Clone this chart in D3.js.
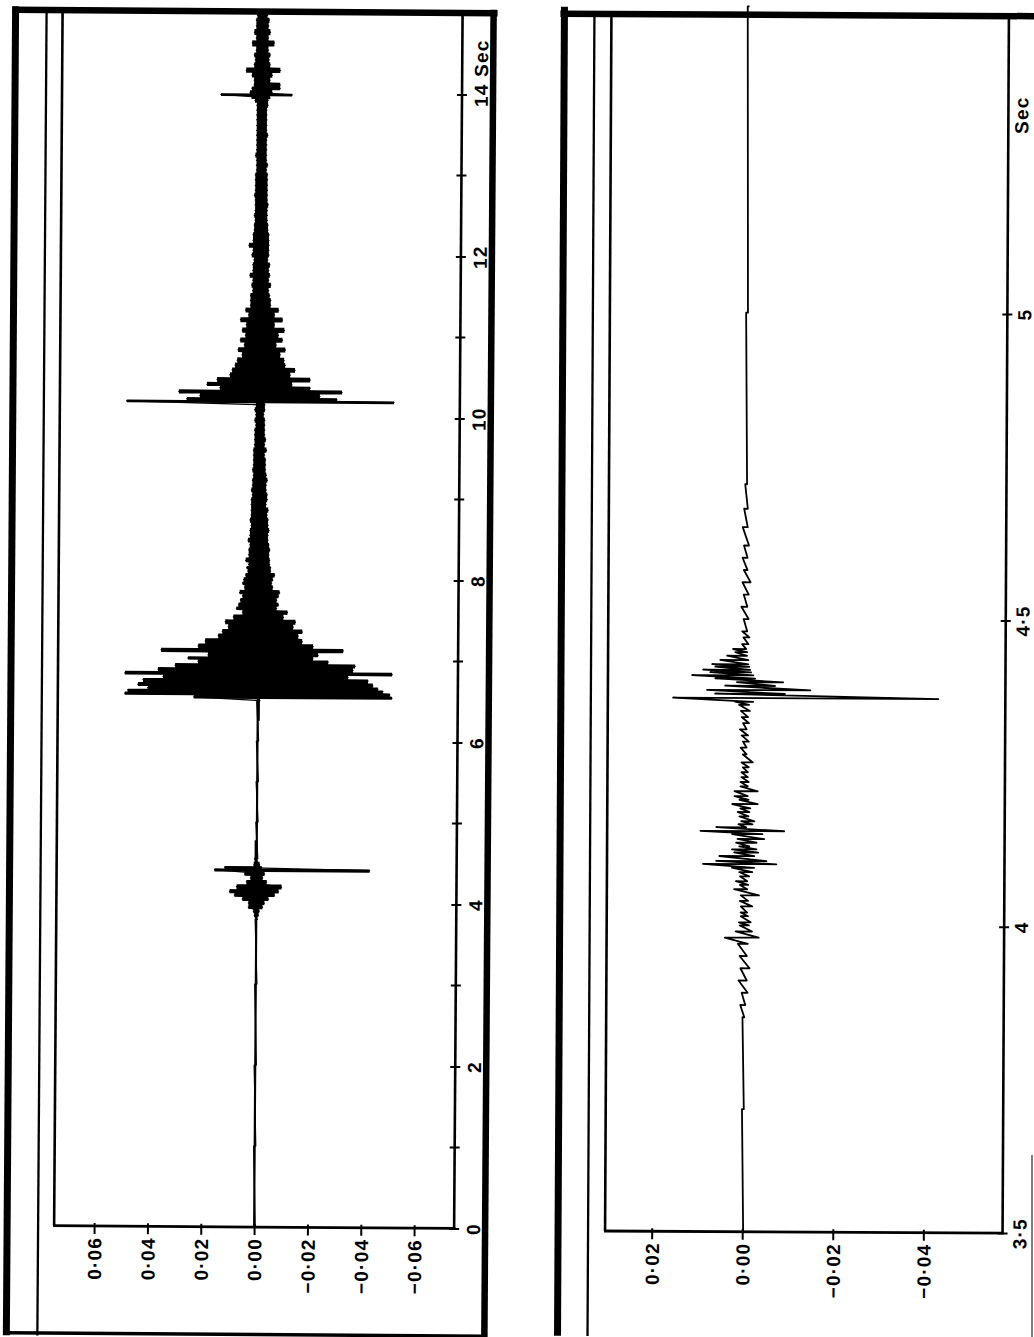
<!DOCTYPE html>
<html><head><meta charset="utf-8">
<script src="https://cdn.jsdelivr.net/npm/d3@7"></script>
<style>
body{margin:0;background:#fff}
svg{display:block}
text{font-family:"Liberation Sans",Arial,Helvetica,sans-serif;font-weight:bold;font-size:19px;fill:#000;letter-spacing:1.2px}
</style>
</head><body>
<svg id="c" width="1034" height="1337"></svg>
<script>
// ---------------- data ----------------
const leftTimeTicks = [0, 2, 4, 6, 8, 10, 12, 14];
const leftTimeLabels = ["0", "2", "4", "6", "8", "10", "12", "14 Sec"];
const leftTimeMinor = [1, 3, 5, 7, 9, 11, 13];
const leftAmpTicks = [0.06, 0.04, 0.02, 0, -0.02, -0.04, -0.06];
const leftAmpLabels = ["0·06", "0·04", "0·02", "0·00", "−0·02", "−0·04", "−0·06"];

const rightTimeTicks = [3.5, 4, 4.5, 5];
const rightTimeLabels = ["3·5", "4", "4·5", "5"];
const rightTimeTitle = "Sec";
const rightAmpTicks = [0.02, 0, -0.02, -0.04];
const rightAmpLabels = ["0·02", "0·00", "−0·02", "−0·04"];

// trace rows: [time (s), max amplitude, min amplitude]
const leftTrace = [
[0.00,0.0004,-0.0004],[1.00,0.0004,-0.0004],[2.00,0.0004,-0.0004],[3.00,0.0004,-0.0004],
[3.80,0.0004,-0.0004],[3.85,0.0008,-0.0008],[3.90,0.0011,-0.0011],[3.95,0.0030,-0.0023],
[4.00,0.0030,-0.0030],[4.05,0.0053,-0.0045],[4.10,0.0083,-0.0068],[4.14,0.0101,-0.0083],
[4.20,0.0075,-0.0094],[4.26,0.0038,-0.0038],[4.31,0.0023,-0.0023],[4.36,0.0045,-0.0030],
[4.41,0.0158,-0.0424],[4.44,0.0120,-0.0019],[4.47,0.0011,-0.0011],[4.55,0.0008,-0.0004],
[5.00,0.0004,-0.0004],[5.50,0.0004,-0.0004],[6.00,0.0004,-0.0004],[6.50,0.0004,-0.0008],
[6.54,0.0240,-0.0503],[6.58,0.0499,-0.0495],[6.62,0.0488,-0.0469],[6.65,0.0413,-0.0450],
[6.69,0.0450,-0.0431],[6.75,0.0431,-0.0413],[6.79,0.0356,-0.0338],[6.83,0.0499,-0.0503],
[6.88,0.0375,-0.0356],[6.93,0.0311,-0.0364],[6.98,0.0225,-0.0263],[7.02,0.0263,-0.0206],
[7.06,0.0188,-0.0225],[7.12,0.0364,-0.0319],[7.17,0.0225,-0.0206],[7.23,0.0199,-0.0165],
[7.30,0.0150,-0.0150],[7.35,0.0135,-0.0165],[7.41,0.0113,-0.0131],[7.47,0.0124,-0.0139],
[7.53,0.0094,-0.0094],[7.59,0.0060,-0.0109],[7.64,0.0083,-0.0068],[7.68,0.0075,-0.0075],
[7.74,0.0068,-0.0068],[7.79,0.0060,-0.0075],[7.83,0.0071,-0.0079],[7.90,0.0053,-0.0053],
[7.95,0.0060,-0.0049],[7.99,0.0056,-0.0053],[8.05,0.0049,-0.0060],[8.10,0.0041,-0.0045],
[8.14,0.0045,-0.0045],[8.18,0.0038,-0.0041],[8.23,0.0049,-0.0041],[8.30,0.0038,-0.0038],
[8.36,0.0038,-0.0041],[8.42,0.0034,-0.0038],[8.48,0.0041,-0.0034],[8.54,0.0034,-0.0034],
[8.60,0.0034,-0.0038],[8.66,0.0030,-0.0034],[8.73,0.0034,-0.0034],[8.79,0.0030,-0.0030],
[8.85,0.0030,-0.0034],[8.92,0.0030,-0.0026],[8.98,0.0030,-0.0030],[9.04,0.0026,-0.0030],
[9.10,0.0030,-0.0026],[9.16,0.0026,-0.0026],[9.22,0.0026,-0.0030],[9.28,0.0023,-0.0026],
[9.35,0.0026,-0.0023],[9.41,0.0023,-0.0023],[9.47,0.0023,-0.0023],[9.53,0.0023,-0.0019],
[9.59,0.0023,-0.0026],[9.66,0.0019,-0.0019],[9.72,0.0019,-0.0023],[9.78,0.0019,-0.0019],
[9.84,0.0019,-0.0019],[9.90,0.0015,-0.0019],[9.96,0.0019,-0.0019],[10.03,0.0015,-0.0015],
[10.09,0.0019,-0.0019],[10.15,0.0015,-0.0019],[10.19,0.0499,-0.0503],[10.22,0.0274,-0.0289],
[10.26,0.0225,-0.0225],[10.31,0.0304,-0.0308],[10.36,0.0150,-0.0188],[10.40,0.0199,-0.0120],
[10.46,0.0161,-0.0188],[10.52,0.0113,-0.0113],[10.58,0.0105,-0.0131],[10.64,0.0094,-0.0094],
[10.70,0.0086,-0.0090],[10.77,0.0068,-0.0075],[10.83,0.0083,-0.0094],[10.89,0.0060,-0.0060],
[10.95,0.0075,-0.0083],[11.01,0.0056,-0.0068],[11.07,0.0068,-0.0090],[11.14,0.0053,-0.0053],
[11.20,0.0075,-0.0083],[11.26,0.0045,-0.0053],[11.32,0.0056,-0.0068],[11.38,0.0038,-0.0038],
[11.44,0.0038,-0.0038],[11.50,0.0038,-0.0034],[11.56,0.0030,-0.0030],[11.63,0.0034,-0.0038],
[11.69,0.0030,-0.0030],[11.75,0.0041,-0.0034],[11.81,0.0030,-0.0030],[11.88,0.0030,-0.0034],
[11.94,0.0026,-0.0026],[12.00,0.0034,-0.0030],[12.06,0.0030,-0.0030],[12.12,0.0045,-0.0030],
[12.18,0.0030,-0.0030],[12.25,0.0030,-0.0030],[12.31,0.0026,-0.0026],[12.37,0.0026,-0.0026],
[12.43,0.0023,-0.0023],[12.49,0.0026,-0.0023],[12.55,0.0023,-0.0023],[12.62,0.0023,-0.0026],
[12.68,0.0023,-0.0023],[12.74,0.0026,-0.0023],[12.80,0.0023,-0.0023],[12.86,0.0023,-0.0023],
[12.93,0.0023,-0.0023],[12.99,0.0023,-0.0023],[13.05,0.0019,-0.0019],[13.11,0.0019,-0.0023],
[13.17,0.0019,-0.0019],[13.23,0.0023,-0.0019],[13.30,0.0019,-0.0019],[13.36,0.0019,-0.0019],
[13.42,0.0019,-0.0019],[13.48,0.0019,-0.0023],[13.54,0.0019,-0.0019],[13.60,0.0019,-0.0019],
[13.67,0.0019,-0.0019],[13.73,0.0019,-0.0019],[13.79,0.0019,-0.0019],[13.85,0.0019,-0.0023],
[13.91,0.0026,-0.0023],[13.94,0.0038,-0.0030],[13.98,0.0154,-0.0113],[14.01,0.0045,-0.0038],
[14.06,0.0038,-0.0068],[14.10,0.0030,-0.0068],[14.16,0.0030,-0.0030],[14.22,0.0038,-0.0038],
[14.28,0.0060,-0.0068],[14.35,0.0030,-0.0030],[14.41,0.0026,-0.0026],[14.47,0.0030,-0.0030],
[14.53,0.0023,-0.0023],[14.62,0.0038,-0.0045],[14.68,0.0023,-0.0023],[14.75,0.0030,-0.0030],
[14.83,0.0023,-0.0023],[14.90,0.0023,-0.0026],[14.96,0.0019,-0.0019],[15.00,0.0019,-0.0019]
];

const rightTrace = [
[3.50,0.0002,-0.0002],[3.70,0.0002,-0.0002],[3.85,0.0002,-0.0002],[3.87,0.0007,-0.0004],
[3.89,0.0004,-0.0009],[3.91,0.0011,-0.0007],[3.93,0.0007,-0.0013],[3.95,0.0009,-0.0007],
[3.97,0.0013,-0.0009],[3.98,0.0042,-0.0033],[3.99,0.0018,-0.0018],[4.000,0.0009,-0.0011],
[4.005,0.0011,-0.0015],[4.015,0.0007,-0.0009],[4.021,0.0007,-0.0007],[4.031,0.0007,-0.0018],
[4.040,0.0009,-0.0009],[4.049,0.0007,-0.0033],[4.059,0.0022,-0.0007],[4.066,0.0009,-0.0009],
[4.072,0.0018,-0.0007],[4.080,0.0009,-0.0011],[4.087,0.0011,-0.0018],[4.094,0.0027,-0.0022],
[4.100,0.0091,-0.0071],[4.105,0.0062,-0.0049],[4.113,0.0055,-0.0022],[4.119,0.0022,-0.0031],
[4.124,0.0027,-0.0027],[4.129,0.0011,-0.0011],[4.135,0.0018,-0.0027],[4.141,0.0015,-0.0044],
[4.149,0.0027,-0.0040],[4.154,0.0097,-0.0088],[4.160,0.0062,-0.0004],[4.165,0.0013,-0.0018],
[4.170,0.0007,-0.0022],[4.178,0.0011,-0.0009],[4.185,0.0015,-0.0011],[4.191,0.0009,-0.0013],
[4.198,0.0027,-0.0029],[4.205,0.0011,-0.0009],[4.211,0.0022,-0.0007],[4.219,0.0022,-0.0029],
[4.227,0.0009,-0.0007],[4.234,0.0009,-0.0009],[4.242,0.0007,-0.0007],[4.250,0.0007,-0.0007],
[4.258,0.0004,-0.0009],[4.266,0.0007,-0.0018],[4.279,0.0004,-0.0004],[4.290,0.0009,-0.0004],
[4.300,0.0004,-0.0009],[4.310,0.0007,-0.0007],[4.320,0.0011,-0.0004],[4.330,0.0004,-0.0009],
[4.340,0.0007,-0.0007],[4.350,0.0009,-0.0011],[4.360,0.0013,-0.0009],[4.365,0.0022,-0.0018],
[4.371,0.0159,-0.0427],[4.378,0.0066,-0.0088],[4.384,0.0084,-0.0144],[4.391,0.0044,-0.0066],
[4.397,0.0018,-0.0084],[4.403,0.0066,-0.0022],[4.408,0.0117,-0.0018],[4.413,0.0077,-0.0013],
[4.417,0.0093,-0.0011],[4.422,0.0066,-0.0009],[4.426,0.0073,-0.0007],[4.433,0.0055,-0.0007],
[4.440,0.0040,-0.0004],[4.446,0.0022,-0.0004],[4.451,0.0027,-0.0002],[4.459,0.0007,-0.0007],
[4.470,0.0004,-0.0009],[4.480,0.0007,-0.0004],[4.500,0.0004,-0.0007],[4.520,0.0009,-0.0004],
[4.540,0.0004,-0.0007],[4.560,0.0007,-0.0011],[4.580,0.0004,-0.0004],[4.600,0.0007,-0.0004],
[4.620,0.0004,-0.0007],[4.650,0.0007,-0.0004],[4.680,0.0004,-0.0004],[4.720,0.0002,-0.0002],
[5.000,0.0002,-0.0002],[5.500,0.0002,-0.0002]
];

// ---------------- layout ----------------
const panels = [
  {
    tilt: 0.4, cx: 250, cy: 670,
    ampDomain: [0.075, -0.075], xRange: [58, 458],
    timeDomain: [0, 15], yRange: [1227, 12],
    plotTop: 12, plotBottom: 1227,
    trace: leftTrace, solid: true, lineW: 1.3,
    timeTicks: leftTimeTicks, timeLabels: leftTimeLabels, timeMinor: leftTimeMinor,
    ampTicks: leftAmpTicks, ampLabels: leftAmpLabels,
    outerL: 11, inner: 42, outerR: 489, topY: 11.5, topX: [8, 493], bottomY: 1334.5,
    labelOff: 19
  },
  {
    tilt: 0.3, cx: 800, cy: 670,
    ampDomain: [0.0303, -0.0575], xRange: [608, 1005.5],
    timeDomain: [3.5, 5], yRange: [1232, 313],
    plotTop: 15, plotBottom: 1232,
    trace: rightTrace, solid: false, lineW: 1.8,
    timeTicks: rightTimeTicks, timeLabels: rightTimeLabels, timeMinor: [],
    ampTicks: rightAmpTicks, ampLabels: rightAmpLabels,
    outerL: 561, inner: 591, outerR: null, topY: 15, topX: [557, 1034], bottomY: null,
    labelOff: 17, titleOff: 13, title: rightTimeTitle
  }
];

const svg = d3.select("#c");
svg.append("rect").attr("width", 1034).attr("height", 1337).attr("fill", "#fff");

panels.forEach(p => {
  const g = svg.append("g").attr("transform", `rotate(${p.tilt},${p.cx},${p.cy})`);
  const x = d3.scaleLinear().domain(p.ampDomain).range(p.xRange);
  const y = d3.scaleLinear().domain(p.timeDomain).range(p.yRange);
  const [x0, x1] = p.xRange;
  const line = (xa, ya, xb, yb, w, c) => g.append("line")
    .attr("x1", xa).attr("y1", ya).attr("x2", xb).attr("y2", yb)
    .attr("stroke", c || "#000").attr("stroke-width", w);

  // outer page frame
  line(p.outerL, 8, p.outerL, 1337, 7);
  line(p.inner, p.topY, p.inner, 1337, 2.3);
  if (p.outerR) line(p.outerR, 8, p.outerR, 1337, 6.5);
  line(p.topX[0], p.topY, p.topX[1], p.topY, 6.5);
  if (p.bottomY) line(p.outerL, p.bottomY, p.outerR, p.bottomY, 3.5);

  // plot frame
  line(x0, p.plotTop, x0, p.plotBottom, 2.6);
  line(x0 - 1, p.plotBottom, x1 + 1.3, p.plotBottom, 2.8);
  line(x1, p.plotTop, x1, p.plotBottom, 2.6);

  // trace: solid stepped envelope (dense oscillation) + zigzag line
  const tr = p.trace;
  if (p.solid) {
    const steps = [];
    tr.forEach((r, i) => {
      const tA = i > 0 ? (tr[i - 1][0] + r[0]) / 2 : r[0];
      const tB = i < tr.length - 1 ? (r[0] + tr[i + 1][0]) / 2 : r[0];
      steps.push([tA, r[1], r[2]], [tB, r[1], r[2]]);
    });
    g.append("path")
      .attr("d", d3.area().y(d => y(d[0])).x0(d => x(d[2])).x1(d => x(d[1]))(steps))
      .attr("fill", "#000");
  }
  const pts = [];
  tr.forEach(r => { pts.push([x(r[1]), y(r[0])]); pts.push([x(r[2]), y(r[0])]); });
  g.append("path").attr("d", d3.line()(pts))
    .attr("fill", "none").attr("stroke", "#000").attr("stroke-width", p.lineW)
    .attr("stroke-linejoin", "round");

  // amplitude axis (bottom)
  const ax = g.append("g").attr("transform", `translate(0,${p.plotBottom})`)
    .call(d3.axisBottom(x).tickValues(p.ampTicks)
      .tickFormat((d, i) => p.ampLabels[i]).tickSize(8).tickPadding(0));
  ax.select(".domain").remove();
  ax.attr("font-size", null).attr("font-family", null);
  ax.selectAll(".tick line").attr("y1", -3).attr("stroke", "#000").attr("stroke-width", 2);
  ax.selectAll(".tick text")
    .attr("transform", "rotate(-90)").attr("x", -11).attr("y", 0).attr("dy", "0.36em")
    .attr("text-anchor", "end");

  // time axis (right)
  const ay = g.append("g").attr("transform", `translate(${x1},0)`)
    .call(d3.axisRight(y).tickValues(p.timeTicks)
      .tickFormat((d, i) => p.timeLabels[i]).tickSize(5).tickPadding(0));
  ay.select(".domain").remove();
  ay.attr("font-size", null).attr("font-family", null);
  ay.selectAll(".tick line").attr("x1", -5).attr("stroke", "#000").attr("stroke-width", 2);
  ay.selectAll(".tick text")
    .attr("transform", "rotate(-90)").attr("x", 0).attr("y", p.labelOff).attr("dy", "0.36em")
    .attr("text-anchor", "middle");
  // label with unit: centre the number on its tick, unit runs on past it
  ay.selectAll(".tick text").each(function(d, i) {
    const lab = p.timeLabels[i];
    if (lab.indexOf(" ") > 0) {
      const num = lab.split(" ")[0];
      const t = d3.select(this);
      t.text(num);
      const w = this.getComputedTextLength();
      t.text(lab).attr("text-anchor", "start").attr("x", -w / 2);
    }
  });
  if (p.timeMinor.length) {
    g.append("g").selectAll("line").data(p.timeMinor).join("line")
      .attr("x1", x1 - 5).attr("x2", x1 + 5)
      .attr("y1", d => y(d)).attr("y2", d => y(d))
      .attr("stroke", "#000").attr("stroke-width", 2);
  }
  if (p.title) {
    g.append("text").attr("transform", `translate(${x1 + p.titleOff},${p.plotTop + 99}) rotate(-90)`)
      .attr("dy", "0.36em").attr("text-anchor", "middle").text(p.title);
  }
});
// scanned page edge at far right
svg.append("line").attr("x1", 1032).attr("x2", 1032).attr("y1", 1155).attr("y2", 1337)
  .attr("stroke", "#555").attr("stroke-width", 1.5);
</script>
</body></html>
